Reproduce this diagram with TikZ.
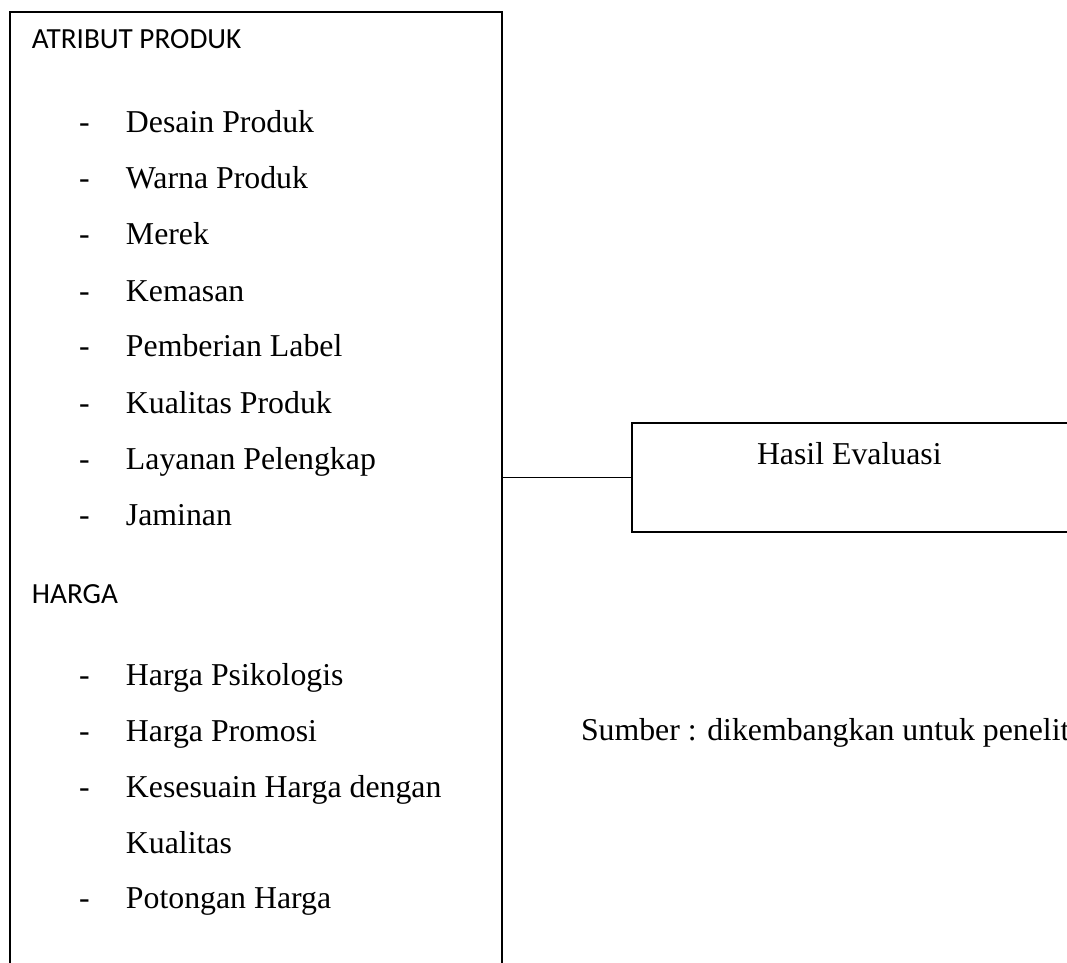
\documentclass[tikz,border=0pt]{standalone}
\usepackage{fontspec}
\setmainfont{Liberation Serif}
\newfontfamily\calibri{Carlito}
\begin{document}
\begin{tikzpicture}[x=0.5pt,y=-0.5pt,
  box/.style={draw, line width=0.75pt, inner sep=0pt, outer sep=0pt},
  item/.style={anchor=base west, inner sep=0pt, outer sep=0pt, font=\fontsize{15.9}{19}\selectfont},
  head/.style={anchor=base west, inner sep=0pt, outer sep=0pt, font=\calibri\fontsize{14.6}{17}\selectfont},
  conn/.style={draw, line width=0.75pt}]
\useasboundingbox (0,0) rectangle (1067,963);
\clip (0,0) rectangle (1067,963);
% boxes
\node[box, anchor=north west, minimum width=246pt, minimum height=500pt] (left) at (10,12) {};
\node[box, anchor=north west, minimum width=240pt, minimum height=54.5pt] (right) at (632,423) {};
\draw[conn] (right.west) -- (right.west -| left.east);
% headings
\node[head] (h1) at (32,49) {ATRIBUT PRODUK};
\node[head] (h2) at (32,603) {HARGA};
% items of first group
\foreach \t [count=\i] in {Desain Produk, Warna Produk, Merek, Kemasan, Pemberian Label, Kualitas Produk, Layanan Pelengkap, Jaminan}{
  \node[item] (d\i) at (79,{133+56*(\i-1)}) {-};
  \node[item] (a\i) at (126,{133+56*(\i-1)}) {\t};
}
% items of second group
\node[item] (e1) at (79,685) {-};
\node[item] (b1) at (126,685) {Harga Psikologis};
\node[item] (e2) at (79,741) {-};
\node[item] (b2) at (126,741) {Harga Promosi};
\node[item] (e3) at (79,797) {-};
\node[item] (b3) at (126,797) {Kesesuain Harga dengan};
\node[item] (b3b) at (126,853) {Kualitas};
\node[item] (e4) at (79,908) {-};
\node[item] (b4) at (126,908) {Potongan Harga};
% right side texts
\node[item] (hasil) at (757,464) {Hasil Evaluasi};
\node[item] (sumber) at (581,740) {Sumber : dikembangkan untuk penelitian};
\end{tikzpicture}
\end{document}
